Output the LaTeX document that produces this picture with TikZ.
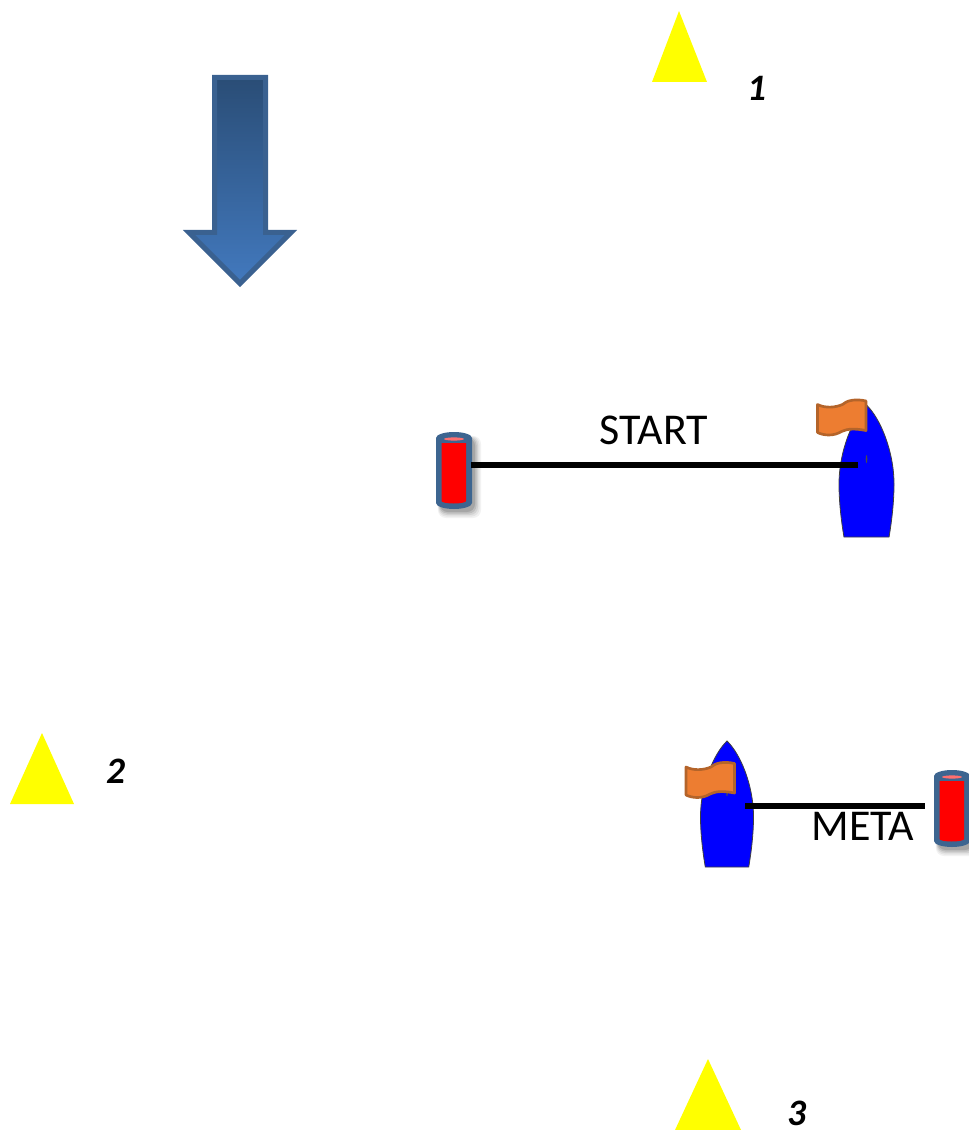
\documentclass[tikz,border=0pt]{standalone}
\usepackage{fontspec}
\setmainfont{Carlito}
\usetikzlibrary{calc}
\definecolor{barblue}{HTML}{3D6590}
\definecolor{arrowedge}{HTML}{3A6190}
\definecolor{arrowtop}{HTML}{2A4D76}
\definecolor{arrowbot}{HTML}{4279BE}
\definecolor{flagfill}{HTML}{ED7D31}
\definecolor{flagedge}{HTML}{B4642A}
\definecolor{pinktop}{HTML}{FF6F6F}
\definecolor{markyellow}{HTML}{FFFF00}
\definecolor{buoyred}{HTML}{FF0000}
\definecolor{hullblue}{HTML}{0000FF}
\tikzset{
  x=0.75pt,y=-0.75pt,
  mark tri/.style={fill=markyellow,draw=none},
  num/.style={font=\fontsize{28}{30}\selectfont\bfseries\itshape,inner sep=0pt},
  lab/.style={font=\fontsize{33}{36}\selectfont,inner sep=0pt},
  rope/.style={draw=black,line width=4.5pt},
  hull/.style={fill=hullblue,draw=black!75,line width=0.6pt},
  flagshape/.style={fill=flagfill,draw=flagedge,line width=2pt,line join=round},
}
\newcommand{\buoy}[2]{%
  \begin{scope}[shift={(#1,#2)}]
    \foreach \o/\a in {7/0.05,5.5/0.06,4/0.08,2.5/0.10,1/0.12}{
      \fill[black,opacity=\a,rounded corners=6pt] (4-\o*0.3,6-\o*0.3) rectangle (38+\o,79+\o);
    }
    \fill[barblue] (0,6) arc[x radius=18,y radius=6,start angle=180,end angle=360] -- (36,71) arc[x radius=18,y radius=6,start angle=0,end angle=180] -- cycle;
    \fill[buoyred] (5.5,11) -- (30,11) -- (30,69) arc[x radius=12.25,y radius=2.5,start angle=0,end angle=180] -- cycle;
    \fill[pinktop] (18,7) ellipse[x radius=10,y radius=1.6];
  \end{scope}}
\newcommand{\boat}[4]{% x of tip, y of tip, half-width, height
  \begin{scope}[shift={(#1,#2)},x=#3*0.75pt,y=#4*-0.75pt]
    \path[hull] (0,0) .. controls (0.5,0.1) and (1,0.35) .. (1,0.6)
      .. controls (1,0.75) and (0.9,0.9) .. (0.82,1) -- (-0.82,1)
      .. controls (-0.9,0.9) and (-1,0.75) .. (-1,0.6)
      .. controls (-1,0.35) and (-0.5,0.1) .. (0,0) -- cycle;
    \fill[black!70] (0,0.41) circle[radius=0.03];
  \end{scope}}
\newcommand{\flagat}[2]{%
  \begin{scope}[shift={(#1,#2)}]
    \path[flagshape] (0,5) .. controls (8,9) and (18,8) .. (25,5)
      .. controls (29,1) and (38,-1) .. (48.5,1.5)
      -- (48.5,31) .. controls (38,29) and (30,29) .. (24,32)
      .. controls (16,37) and (6,36) .. (0,33) -- cycle;
  \end{scope}}
\begin{document}
\begin{tikzpicture}
\useasboundingbox (0,0) rectangle (969,1130);
\clip (0,0) rectangle (969,1130);
% wind arrow
\path[draw=arrowedge,line width=3.75pt,miter limit=10,top color=arrowtop,bottom color=arrowbot,middle color=arrowtop!50!arrowbot]
  (214.5,77.5) -- (265.5,77.5) -- (265.5,232.5) -- (291,232.5) -- (240,283.5) -- (189,232.5) -- (214.5,232.5) -- cycle;
% marks
\path[mark tri] (679,11) -- (707,82) -- (652,82) -- cycle;
\path[mark tri] (42,733) -- (74,804) -- (10,804) -- cycle;
\path[mark tri] (708,1059) -- (741,1130) -- (675,1130) -- cycle;
\node[num] (n1) at (757,88) {1};
\node[num] (n2) at (116,771) {2};
\node[num] (n3) at (797,1113) {3};
% start line
\boat{866.5}{405}{27.5}{132}
\flagat{817.5}{399.5}
\buoy{436}{432}
\coordinate (startL) at (471,465);
\coordinate (startR) at (858,465);
\draw[rope] (startL) -- (startR);
\node[lab] (start) at (654,430) {START};
% finish line
\boat{727}{741}{26.5}{126}
\flagat{686}{762}
\buoy{934}{770}
\coordinate (metaL) at (745,805.5);
\coordinate (metaR) at (925,805.5);
\draw[rope] (metaL) -- (metaR);
\node[lab] (meta) at (863,826) {META};
\end{tikzpicture}
\end{document}
